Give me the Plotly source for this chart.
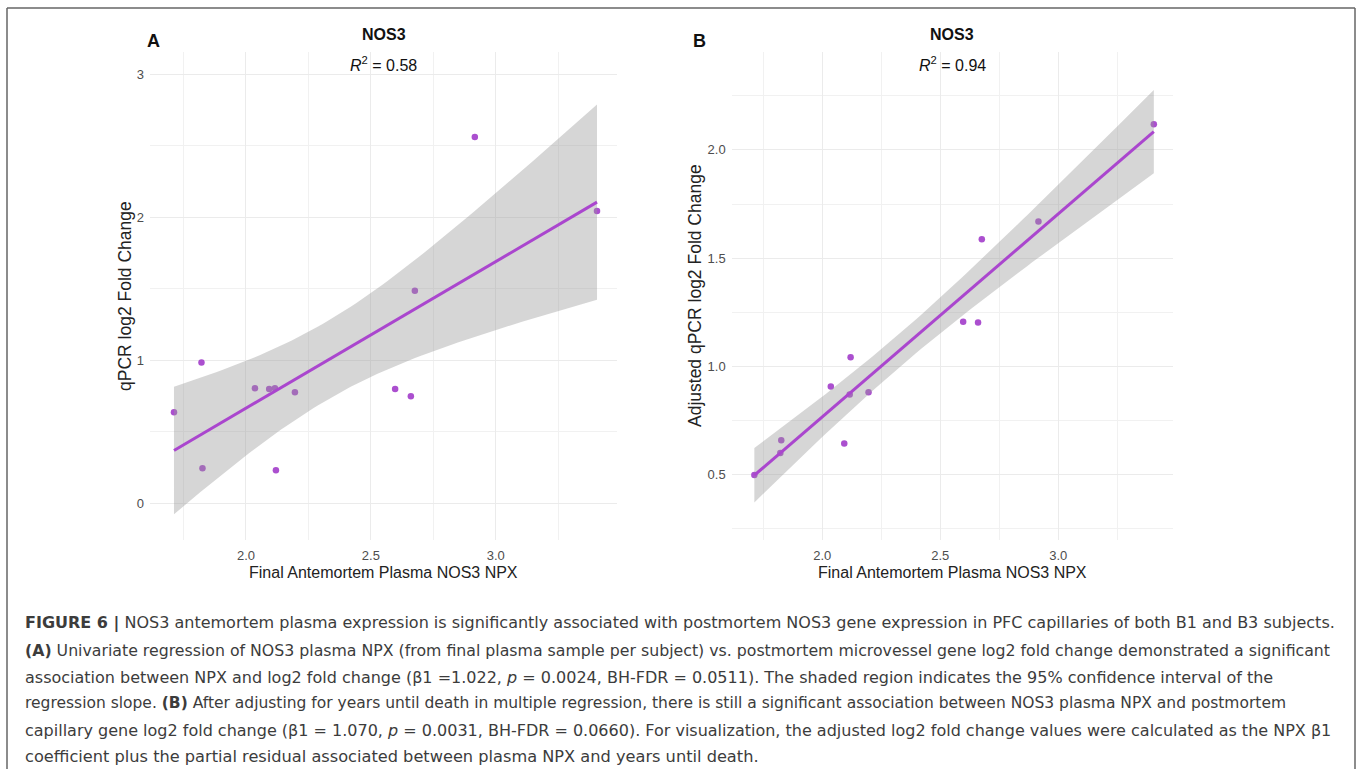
import numpy as np
import plotly.graph_objects as go

# ---------------- data ----------------
npx = [1.712, 1.822, 1.826, 2.036, 2.093, 2.116, 2.120, 2.196, 2.597, 2.660, 2.676, 2.916, 3.405]
fc_a = [0.636, 0.983, 0.245, 0.804, 0.799, 0.804, 0.231, 0.776, 0.799, 0.748, 1.485, 2.559, 2.042]
fc_b = [0.499, 0.601, 0.660, 0.908, 0.645, 0.871, 1.043, 0.881, 1.206, 1.203, 1.587, 1.669, 2.118]
r2_labels = ["0.58", "0.94"]
panel_letters = ["A", "B"]
y_titles = ["qPCR log2 Fold Change", "Adjusted qPCR log2 Fold Change"]
x_title = "Final Antemortem Plasma NOS3 NPX"
panel_title = "NOS3"

caption_lines = [
    "<b>FIGURE 6 |</b> NOS3 antemortem plasma expression is significantly associated with postmortem NOS3 gene expression in PFC capillaries of both B1 and B3 subjects.",
    "<b>(A)</b> Univariate regression of NOS3 plasma NPX (from final plasma sample per subject) vs. postmortem microvessel gene log2 fold change demonstrated a significant",
    "association between NPX and log2 fold change (β1 =1.022, <i>p</i> = 0.0024, BH-FDR = 0.0511). The shaded region indicates the 95% confidence interval of the",
    "regression slope. <b>(B)</b> After adjusting for years until death in multiple regression, there is still a significant association between NOS3 plasma NPX and postmortem",
    "capillary gene log2 fold change (β1 = 1.070, <i>p</i> = 0.0031, BH-FDR = 0.0660). For visualization, the adjusted log2 fold change values were calculated as the NPX β1",
    "coefficient plus the partial residual associated between plasma NPX and years until death.",
]

W, H = 1358, 769
PT_COLOR = "rgba(166,70,204,0.95)"
LINE_COLOR = "#AA46CE"
BAND = "rgba(153,153,153,0.4)"
GRID = "#EBEBEB"
FONT = "Liberation Sans, Arial, sans-serif"
CAP_FONT = "DejaVu Sans, sans-serif"


def px(x):
    return x / W


def py(y):
    return 1 - y / H


def fit(x, y, n_grid=80, tcrit=2.201):
    x = np.asarray(x)
    y = np.asarray(y)
    b1, b0 = np.polyfit(x, y, 1)
    n = len(x)
    resid = y - (b0 + b1 * x)
    s = np.sqrt(np.sum(resid ** 2) / (n - 2))
    xbar = x.mean()
    sxx = np.sum((x - xbar) ** 2)
    xg = np.linspace(x.min(), x.max(), n_grid)
    yg = b0 + b1 * xg
    se = s * np.sqrt(1 / n + (xg - xbar) ** 2 / sxx)
    return xg, yg, yg - tcrit * se, yg + tcrit * se


fig = go.Figure()

panels = [
    dict(y=fc_a, xa="x", ya="y", xdom=(150, 617), yrange=[-0.257, 3.156], ydt=1, yminor=0.5, yfmt="d", ytitle_x=125),
    dict(y=fc_b, xa="x2", ya="y2", xdom=(731.7, 1172.7), yrange=[0.199, 2.453], ydt=0.5, yminor=0.25, yfmt=".1f", ytitle_x=695),
]

ytop, ybot = 51.7, 540

for i, p in enumerate(panels):
    xg, yg, lo, hi = fit(npx, p["y"])
    fig.add_trace(go.Scatter(x=npx, y=p["y"], mode="markers", xaxis=p["xa"], yaxis=p["ya"],
                             marker=dict(size=6.5, color=PT_COLOR, line=dict(width=0)),
                             showlegend=False, hoverinfo="skip"))
    fig.add_trace(go.Scatter(x=np.concatenate([xg, xg[::-1]]), y=np.concatenate([hi, lo[::-1]]),
                             mode="lines", fill="toself", fillcolor=BAND, line=dict(width=0),
                             xaxis=p["xa"], yaxis=p["ya"], showlegend=False, hoverinfo="skip"))
    fig.add_trace(go.Scatter(x=xg, y=yg, mode="lines", line=dict(color=LINE_COLOR, width=3),
                             xaxis=p["xa"], yaxis=p["ya"], showlegend=False, hoverinfo="skip"))

    xkey = "xaxis" if i == 0 else "xaxis2"
    ykey = "yaxis" if i == 0 else "yaxis2"
    fig.update_layout(**{
        xkey: dict(domain=[px(p["xdom"][0]), px(p["xdom"][1])], range=[1.616, 3.485],
                   anchor=p["ya"], tick0=2.0, dtick=0.5, tickformat=".1f",
                   showgrid=True, gridcolor=GRID, gridwidth=1, zeroline=False, showline=False,
                   ticks="", ticklabelstandoff=6, tickfont=dict(size=13, color="#4D4D4D", family=FONT),
                   minor=dict(tick0=1.75, dtick=0.25, showgrid=True, gridcolor="#F1F1F1", gridwidth=1)),
        ykey: dict(domain=[py(ybot), py(ytop)], range=p["yrange"], anchor=p["xa"],
                   tick0=0, dtick=p["ydt"], tickformat=p["yfmt"],
                   showgrid=True, gridcolor=GRID, gridwidth=1, zeroline=False, showline=False,
                   ticks="", ticklabelstandoff=5, tickfont=dict(size=13, color="#4D4D4D", family=FONT),
                   minor=dict(tick0=0, dtick=p["yminor"], showgrid=True, gridcolor="#F1F1F1", gridwidth=1)),
    })

annotations = []
centers = [383.5, 952.2]
letter_x = [153, 700]
for i in range(2):
    c = centers[i]
    annotations.append(dict(x=px(letter_x[i]), y=py(41), xref="paper", yref="paper", text="<b>%s</b>" % panel_letters[i],
                            showarrow=False, xanchor="center", yanchor="middle",
                            font=dict(size=18, color="#111111", family=FONT)))
    annotations.append(dict(x=px(c), y=py(34), xref="paper", yref="paper", text="<b>%s</b>" % panel_title,
                            showarrow=False, xanchor="center", yanchor="middle",
                            font=dict(size=16, color="#111111", family=FONT)))
    annotations.append(dict(x=px(c), y=py(64), xref="paper", yref="paper",
                            text="<i>R</i><sup>2</sup> = %s" % r2_labels[i],
                            showarrow=False, xanchor="center", yanchor="middle",
                            font=dict(size=16, color="#111111", family=FONT)))
    annotations.append(dict(x=px(c), y=py(572), xref="paper", yref="paper", text=x_title,
                            showarrow=False, xanchor="center", yanchor="middle",
                            font=dict(size=16, color="#222222", family=FONT)))
    annotations.append(dict(x=px(panels[i]["ytitle_x"]), y=py(296), xref="paper", yref="paper", text=y_titles[i],
                            showarrow=False, xanchor="center", yanchor="middle", textangle=-90,
                            font=dict(size=17.5, color="#222222", family=FONT)))

cap_y = [623, 650, 677, 703, 730, 756]
cap_size = [16, 15.75, 16, 15.5, 16, 16.2]
for line, yy, sz in zip(caption_lines, cap_y, cap_size):
    annotations.append(dict(x=px(23), y=py(yy), xref="paper", yref="paper", text=line,
                            showarrow=False, xanchor="left", yanchor="middle",
                            font=dict(size=sz, color="#3C3C3C", family=CAP_FONT)))

shapes = [
    dict(type="line", xref="paper", yref="paper", x0=px(7), x1=px(1355), y0=py(8), y1=py(8),
         line=dict(color="#666666", width=1.5)),
    dict(type="line", xref="paper", yref="paper", x0=px(7), x1=px(7), y0=py(8), y1=py(780),
         line=dict(color="#666666", width=1.5)),
    dict(type="line", xref="paper", yref="paper", x0=px(1355), x1=px(1355), y0=py(8), y1=py(780),
         line=dict(color="#666666", width=1.5)),
]

fig.update_layout(width=W, height=H, margin=dict(l=0, r=0, t=0, b=0),
                  paper_bgcolor="white", plot_bgcolor="white",
                  annotations=annotations, shapes=shapes, showlegend=False,
                  font=dict(family=FONT))

fig.write_html("out.html", config={"displayModeBar": False},
               post_script="document.body.style.margin='0';document.body.style.overflow='hidden';")
